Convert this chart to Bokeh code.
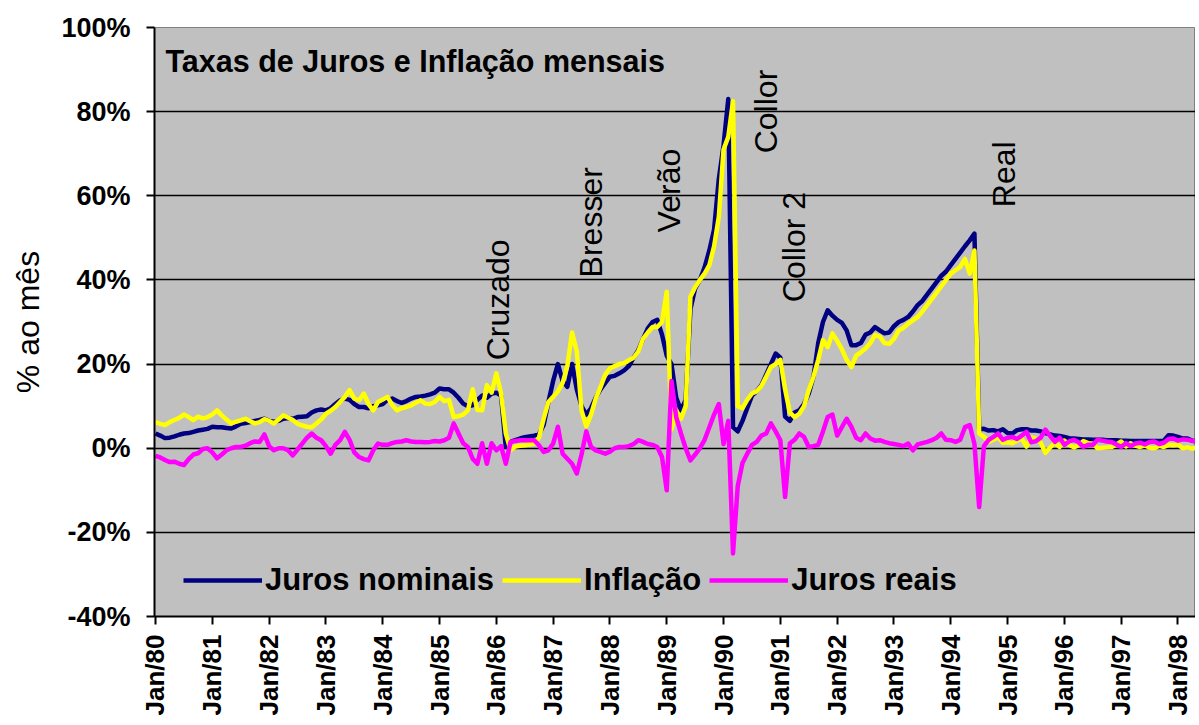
import math
from bokeh.plotting import figure
from bokeh.models import Range1d, FixedTicker, Label, Legend, LegendItem
from bokeh.embed import file_html
from bokeh.resources import INLINE

# Monthly series, Jan/80 ... May/98 (percent per month)
juros_nominais = [
    3.5, 3.0, 2.4, 2.5, 2.8, 3.2, 3.5, 3.6, 3.9, 4.2, 4.4, 4.6,            # 1980
    5.1, 5.0, 5.0, 4.8, 4.7, 5.2, 5.8, 6.0, 6.2, 6.5, 6.7, 7.0,            # 1981
    6.5, 6.3, 6.5, 7.0, 7.2, 7.0, 7.4, 7.5, 7.6, 8.5, 9.0, 9.2,            # 1982
    9.0, 9.5, 10.5, 11.4, 11.8, 11.5, 10.5, 9.8, 9.8, 9.5, 10.0, 10.2,     # 1983
    10.5, 11.5, 11.8, 11.2, 10.8, 11.2, 11.8, 12.2, 12.3, 12.5, 12.8, 13.2,  # 1984
    14.2, 14.0, 14.0, 13.2, 12.0, 10.6, 10.0, 10.2, 11.5, 12.5, 12.0, 13.0,  # 1985
    13.2, 12.5, 0.3, 1.5, 1.9, 2.3, 2.6, 2.8, 3.0, 3.3, 5.5, 11.0,         # 1986
    16.0, 20.0, 16.0, 14.6, 20.0, 14.0, 10.0, 8.0, 9.5, 12.0, 14.0, 15.5,  # 1987
    17.0, 17.2, 17.8, 18.5, 19.5, 21.5, 23.3, 26.0, 28.5, 30.0, 30.5, 27.0,  # 1988
    22.0, 20.0, 12.0, 9.0, 11.5, 33.0, 38.0, 40.0, 43.0, 47.0, 52.0, 64.0,  # 1989
    72.0, 83.0, 5.0, 4.0, 6.5, 9.5, 12.5, 13.5, 15.0, 17.5, 20.0, 22.5,    # 1990
    21.5, 7.5, 6.5, 8.5, 9.0, 10.5, 13.0, 17.0, 25.0, 30.0, 32.8, 31.5,    # 1991
    30.5, 29.8, 28.0, 24.5, 24.5, 25.0, 27.0, 27.5, 28.8, 28.0, 27.3, 27.5,  # 1992
    29.0, 30.0, 30.5, 31.2, 32.5, 34.0, 35.0, 36.5, 38.0, 39.5, 41.0, 42.0,  # 1993
    43.5, 45.0, 46.5, 48.0, 49.4, 51.0, 4.5, 4.6, 4.2, 4.3, 4.0, 4.5,      # 1994
    3.6, 3.5, 4.3, 4.5, 4.5, 4.2, 4.2, 4.0, 3.6, 3.3, 3.0, 2.9,            # 1995
    2.7, 2.4, 2.3, 2.2, 2.1, 2.1, 2.0, 2.0, 2.0, 1.9, 1.9, 1.9,            # 1996
    1.8, 1.8, 1.7, 1.7, 1.7, 1.7, 1.7, 1.7, 1.7, 1.8, 3.1, 3.0,            # 1997
    2.7, 2.3, 2.3, 1.8, 1.7,                                               # 1998
]

inflacao = [
    6.2, 5.8, 5.5, 6.2, 6.7, 7.2, 8.0, 7.4, 6.7, 7.5, 7.1, 7.4,            # 1980
    8.0, 9.0, 7.8, 6.8, 5.9, 6.3, 6.6, 7.0, 6.4, 5.9, 6.2, 6.9,            # 1981
    6.5, 5.9, 6.8, 7.8, 7.3, 6.7, 5.8, 5.4, 5.1, 5.0, 5.9, 6.8,            # 1982
    8.2, 8.9, 9.8, 11.0, 12.2, 13.8, 11.8, 11.4, 13.0, 10.5, 9.0, 11.0,    # 1983
    11.6, 12.2, 10.3, 9.0, 9.5, 9.8, 10.2, 10.8, 11.4, 10.6, 10.5, 11.0,   # 1984
    12.2, 11.2, 11.5, 7.4, 7.6, 8.0, 9.0, 14.0, 9.1, 9.0, 15.0, 13.2,      # 1985
    17.8, 13.0, 3.5, -0.5, 0.4, 0.6, 0.7, 0.9, 1.1, 2.5, 7.0, 11.0,        # 1986
    12.2, 13.5, 15.5, 19.5, 27.5, 23.0, 9.0, 5.2, 8.0, 11.8, 14.5, 17.5,   # 1987
    19.0, 19.5, 20.0, 20.2, 20.9, 21.5, 23.0, 26.0, 27.5, 28.8, 28.8, 30.0,  # 1988
    37.2, 4.5, 9.0, 7.0, 10.0, 36.0, 38.3, 40.0, 41.5, 43.5, 48.0, 55.0,   # 1989
    71.0, 74.0, 82.5, 10.0, 9.5, 11.5, 13.0, 13.5, 14.8, 17.0, 19.3, 20.0,  # 1990
    21.0, 14.0, 8.5, 7.4, 8.2, 10.0, 13.8, 17.0, 21.0, 25.7, 24.0, 27.3,   # 1991
    25.5, 23.5, 21.0, 19.3, 22.0, 22.8, 23.7, 25.0, 26.9, 26.5, 25.0, 24.8,  # 1992
    26.0, 28.0, 28.6, 29.6, 30.4, 31.2, 32.5, 34.0, 35.5, 37.0, 38.5, 40.0,  # 1993
    41.5, 42.3, 43.1, 45.0, 41.5, 47.0, 3.5, 2.7, 1.5, 2.0, 2.6, 1.3,      # 1994
    1.4, 1.2, 1.8, 2.3, 0.4, 2.6, 2.2, 1.3, -1.1, 0.2, 1.3, 0.3,           # 1995
    1.8, 0.8, 0.2, 0.7, 1.7, 1.2, 1.1, 0.0, 0.1, 0.2, 0.3, 0.9,            # 1996
    1.6, 0.4, 1.2, 0.6, 0.3, 0.7, 0.1, 0.0, 0.6, 0.3, 0.8, 0.7,            # 1997
    0.9, 0.0, 0.2, -0.1, 0.2,                                              # 1998
]

juros_reais = [
    -1.8, -2.2, -2.8, -3.3, -3.2, -3.7, -4.0, -2.6, -1.5, -1.2, -0.2, 0.0,  # 1980
    -1.0, -2.4, -1.5, -0.5, 0.0, 0.3, 0.3, 0.6, 1.2, 1.6, 1.5, 3.3,        # 1981
    0.5, -0.5, 0.0, 0.0, -0.5, -1.7, -0.3, 1.1, 2.5, 3.5, 2.5, 1.9,        # 1982
    0.5, -1.3, 0.8, 1.9, 3.9, 2.0, -1.0, -2.1, -2.6, -2.9, -0.5, 1.1,      # 1983
    0.8, 0.8, 1.2, 1.5, 1.6, 1.9, 1.6, 1.5, 1.5, 1.4, 1.5, 1.7,            # 1984
    1.6, 1.9, 2.5, 5.9, 3.5, 1.2, 0.3, -2.5, -3.7, 1.2, -3.7, 1.2,         # 1985
    -0.5, 0.5, -3.7, 1.5, 1.7, 1.9, 1.9, 1.9, 1.9, 0.7, -0.9, -0.5,        # 1986
    1.1, 5.1, -1.3, -2.5, -3.7, -6.0, -1.5, 4.0, 0.3, -0.5, -0.9, -1.3,    # 1987
    -0.8, 0.0, 0.3, 0.3, 0.5, 1.0, 1.9, 1.5, 1.0, 0.8, 0.3, -2.1,          # 1988
    -10.0, 16.0, 7.4, 3.5, 0.0, -2.9, -1.5, 0.0, 2.0, 5.0, 8.0, 10.5,      # 1989
    1.0, 6.5, -25.0, -9.0, -3.5, -1.3, 0.8, 1.5, 3.0, 3.5, 5.9, 4.0,       # 1990
    1.9, -11.6, 1.1, 2.0, 3.5, 2.7, 0.3, 0.5, 0.8, 4.0, 7.4, 8.0,          # 1991
    3.0, 5.0, 7.0, 5.1, 2.5, 1.9, 3.5, 2.3, 1.8, 1.9, 1.5, 1.2,            # 1992
    1.0, 0.8, 0.5, 1.1, -0.5, 0.9, 1.2, 1.5, 1.9, 2.5, 3.5, 2.0,           # 1993
    1.9, 1.5, 2.0, 5.0, 5.5, 1.0, -14.0, 0.5, 2.0, 2.7, 3.5, 2.0,          # 1994
    2.5, 2.7, 2.2, 3.0, 3.9, 1.4, 1.7, 2.5, 4.4, 2.9, 1.5, 2.5,            # 1995
    0.8, 1.6, 2.0, 1.4, 0.3, 0.8, 0.8, 2.0, 1.8, 1.6, 1.5, 0.9,            # 1996
    0.3, 1.2, 0.5, 1.1, 1.3, 0.9, 1.5, 1.6, 1.0, 1.3, 2.2, 2.3,            # 1997
    1.8, 2.1, 2.0, 1.8, 1.4,                                               # 1998
]

meses = list(range(len(inflacao)))  # month index, 0 = Jan/80

x_ticks = [0, 12, 24, 36, 48, 60, 72, 84, 96, 108, 120, 132, 144, 156, 168, 180, 192, 204, 216]
x_labels = ["Jan/80", "Jan/81", "Jan/82", "Jan/83", "Jan/84", "Jan/85", "Jan/86",
            "Jan/87", "Jan/88", "Jan/89", "Jan/90", "Jan/91", "Jan/92", "Jan/93",
            "Jan/94", "Jan/95", "Jan/96", "Jan/97", "Jan/98"]
y_ticks = [-40, -20, 0, 20, 40, 60, 80, 100]
y_labels = ["-40%", "-20%", "0%", "20%", "40%", "60%", "80%", "100%"]

planos = ["Cruzado", "Bresser", "Verão", "Collor", "Collor 2", "Real"]
planos_mes = [72.3, 92.1, 108.4, 128.9, 134.8, 179.2]
planos_nivel = [20.9, 40.6, 51.3, 70.1, 34.7, 57.3]

FONT = "Liberation Sans"

p = figure(width=1195, height=721,
           x_range=Range1d(-0.21, 219.7), y_range=Range1d(-40, 100),
           output_backend="svg", toolbar_location=None,
           min_border_left=154, min_border_right=0,
           min_border_top=27, min_border_bottom=105,
           background_fill_color="#c0c0c0", border_fill_color="white",
           outline_line_color="#808080", outline_line_width=1)

p.xgrid.visible = False
p.ygrid.ticker = FixedTicker(ticks=[-20, 0, 20, 40, 60, 80])
p.ygrid.grid_line_color = "black"
p.ygrid.grid_line_width = 1.5

p.yaxis.ticker = FixedTicker(ticks=y_ticks)
p.yaxis.major_label_overrides = dict(zip(y_ticks, y_labels))
p.yaxis.minor_tick_line_color = None
p.yaxis.major_tick_in = 0
p.yaxis.major_tick_out = 8
p.yaxis.major_label_standoff = 16
p.yaxis.major_label_text_font = FONT
p.yaxis.major_label_text_font_style = "bold"
p.yaxis.major_label_text_font_size = "27px"
p.yaxis.major_label_text_color = "black"
p.yaxis.axis_label = "% ao mês"
p.yaxis.axis_label_text_font = FONT
p.yaxis.axis_label_text_font_style = "normal"
p.yaxis.axis_label_text_font_size = "32px"
p.yaxis.axis_label_text_color = "black"
p.yaxis.axis_label_standoff = 12

p.xaxis.ticker = FixedTicker(ticks=x_ticks)
p.xaxis.major_label_overrides = dict(zip(x_ticks, x_labels))
p.xaxis.minor_tick_line_color = None
p.xaxis.major_tick_in = 0
p.xaxis.major_tick_out = 8
p.xaxis.major_label_standoff = 10
p.xaxis.major_label_orientation = math.pi / 2
p.xaxis.major_label_text_font = FONT
p.xaxis.major_label_text_font_style = "bold"
p.xaxis.major_label_text_font_size = "26px"
p.xaxis.major_label_text_color = "black"

for ax in (p.xaxis, p.yaxis):
    ax.axis_line_color = "black"
    ax.axis_line_width = 2
    ax.major_tick_line_color = "black"
    ax.major_tick_line_width = 2

r1 = p.line(meses, juros_nominais, line_color="#000080", line_width=4.5, line_join="round")
r2 = p.line(meses, inflacao, line_color="#FFFF00", line_width=4.5, line_join="round")
r3 = p.line(meses, juros_reais, line_color="#FF00FF", line_width=4.5, line_join="round")

p.add_layout(Label(x=2.1, y=92.0, text="Taxas de Juros e Inflação mensais",
                   text_font=FONT, text_font_style="bold", text_font_size="30.5px",
                   text_color="black", text_align="left", text_baseline="alphabetic"))

for nome, mx, ny in zip(planos, planos_mes, planos_nivel):
    p.add_layout(Label(x=mx, y=ny, text=nome, angle=math.pi / 2,
                       text_font=FONT, text_font_size="32px", text_color="black",
                       text_align="left", text_baseline="middle"))

legend = Legend(items=[LegendItem(label="Juros nominais", renderers=[r1]),
                       LegendItem(label="Inflação", renderers=[r2]),
                       LegendItem(label="Juros reais", renderers=[r3])],
                orientation="horizontal", location=(29, 18),
                glyph_width=79, glyph_height=30, label_height=30,
                label_standoff=3, spacing=8, padding=0, margin=0,
                border_line_alpha=0, background_fill_alpha=0,
                label_text_font=FONT, label_text_font_style="bold",
                label_text_font_size="31px", label_text_color="black")
p.add_layout(legend, "center")

open("out.html", "w").write(file_html(p, INLINE, "Taxas de Juros e Inflação mensais"))
